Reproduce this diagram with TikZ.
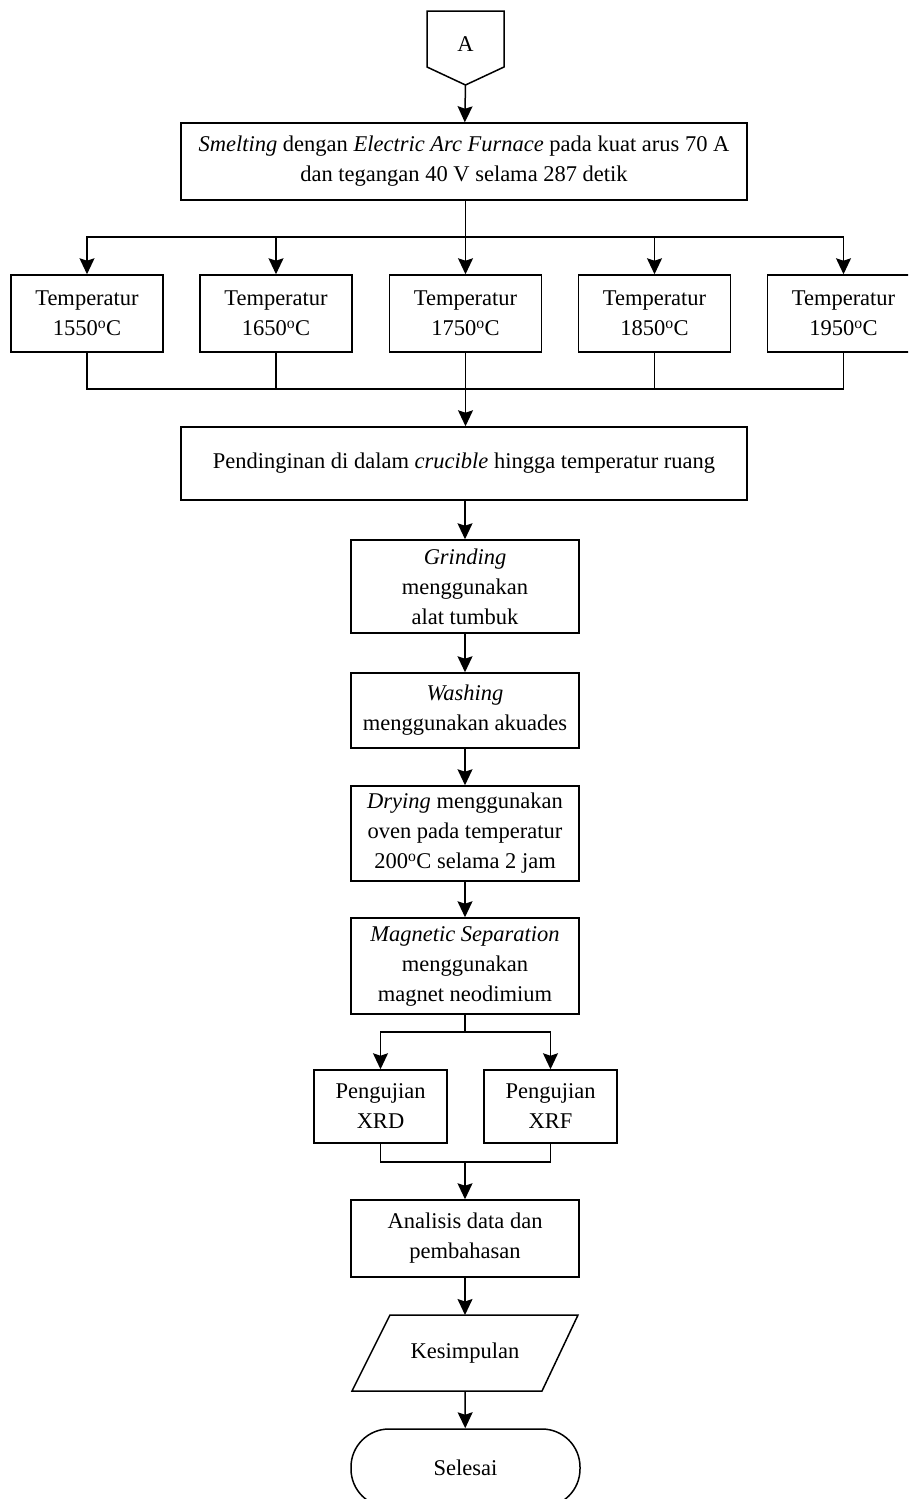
\documentclass[tikz,border=0pt]{standalone}
\usepackage{fontspec}
\setmainfont{Liberation Serif}
\usetikzlibrary{arrows.meta}
\begin{document}
\begin{tikzpicture}[x=1pt,y=-1pt,
  every node/.style={font=\fontsize{22.5}{30}\selectfont, align=center, inner sep=0pt},
  box/.style={draw, line width=1.5pt, minimum width=#1},
  arr/.style={-{Stealth[width=15pt,length=16pt,inset=2.5pt]}},
  ln/.style={line width=1.5pt}]
\clip (0,0) rectangle (908,1499);
\fill[white] (0,0) rectangle (908,1499);
\begin{scope}[ln]
% off-page connector A
\draw (427,11) -- (504,11) -- (504,67) -- (465.5,85) -- (427,67) -- cycle;
\node (A) at (465.5,44) {A};
\coordinate (Ap) at (465.5,85);
\node[box=566pt, minimum height=77pt] (smelt) at (464,161.5) {\textit{Smelting} dengan \textit{Electric Arc Furnace} pada kuat arus 70 A\\dan tegangan 40 V selama 287 detik};
\node[box=152pt, minimum height=77pt] (t1) at (87,313.5) {Temperatur\\1550\textsuperscript{o}C};
\node[box=152pt, minimum height=77pt] (t2) at (276,313.5) {Temperatur\\1650\textsuperscript{o}C};
\node[box=152pt, minimum height=77pt] (t3) at (465.5,313.5) {Temperatur\\1750\textsuperscript{o}C};
\node[box=152pt, minimum height=77pt] (t4) at (654.5,313.5) {Temperatur\\1850\textsuperscript{o}C};
\node[box=152pt, minimum height=77pt] (t5) at (843.5,313.5) {Temperatur\\1950\textsuperscript{o}C};
\node[box=566pt, minimum height=73pt] (cool) at (464,463.5) {Pendinginan di dalam \textit{crucible} hingga temperatur ruang};
\node[box=228pt, minimum height=93pt] (grind) at (465,586.5) {\textit{Grinding}\\menggunakan\\alat tumbuk};
\node[box=228pt, minimum height=75pt] (wash) at (465,710.5) {\textit{Washing}\\menggunakan akuades};
\node[box=228pt, minimum height=95pt] (dry) at (465,833.5) {\textit{Drying} menggunakan\\oven pada temperatur\\200\textsuperscript{o}C selama 2 jam};
\node[box=228pt, minimum height=96pt] (mag) at (465,966) {\textit{Magnetic Separation}\\menggunakan\\magnet neodimium};
\node[box=133pt, minimum height=73pt] (xrd) at (380.5,1106.5) {Pengujian\\XRD};
\node[box=133pt, minimum height=73pt] (xrf) at (550.5,1106.5) {Pengujian\\XRF};
\node[box=228pt, minimum height=77pt] (anal) at (465,1238.5) {Analisis data dan\\pembahasan};
% parallelogram
\draw (352,1391) -- (390,1315) -- (578,1315) -- (542,1391) -- cycle;
\node (kes) at (465,1353) {Kesimpulan};
\coordinate (kesN) at (465,1315);
\coordinate (kesS) at (465,1391);
% terminator
\node[draw, line width=1.5pt, minimum width=229pt, minimum height=78pt, rounded corners=38pt] (end) at (465.5,1468) {Selesai};
% connectors
\draw[arr] (Ap) -- (smelt);
\coordinate (b) at (465.5,237);
\draw (smelt.south -| b) -- (b);
\draw[arr] (b) -- (t3);
\draw[arr] (b) -| (t1);
\draw[arr] (b) -| (t2);
\draw[arr] (b) -| (t4);
\draw[arr] (b) -| (t5);
\coordinate (m) at (465.5,389);
\draw (t1) |- (m);
\draw (t2) |- (m);
\draw (t4) |- (m);
\draw (t5) |- (m);
\draw[arr] (t3) -- (cool.north -| t3);
\draw[arr] (cool.south -| grind) -- (grind);
\draw[arr] (grind) -- (wash);
\draw[arr] (wash) -- (dry);
\draw[arr] (dry) -- (mag);
\coordinate (s) at (465,1032);
\draw (mag) -- (s);
\draw[arr] (s) -| (xrd);
\draw[arr] (s) -| (xrf);
\coordinate (m2) at (465,1162);
\draw (xrd) |- (m2);
\draw (xrf) |- (m2);
\draw[arr] (m2) -- (anal);
\draw[arr] (anal) -- (kesN);
\draw[arr] (kesS) -- (end);
\end{scope}
\end{tikzpicture}
\end{document}
